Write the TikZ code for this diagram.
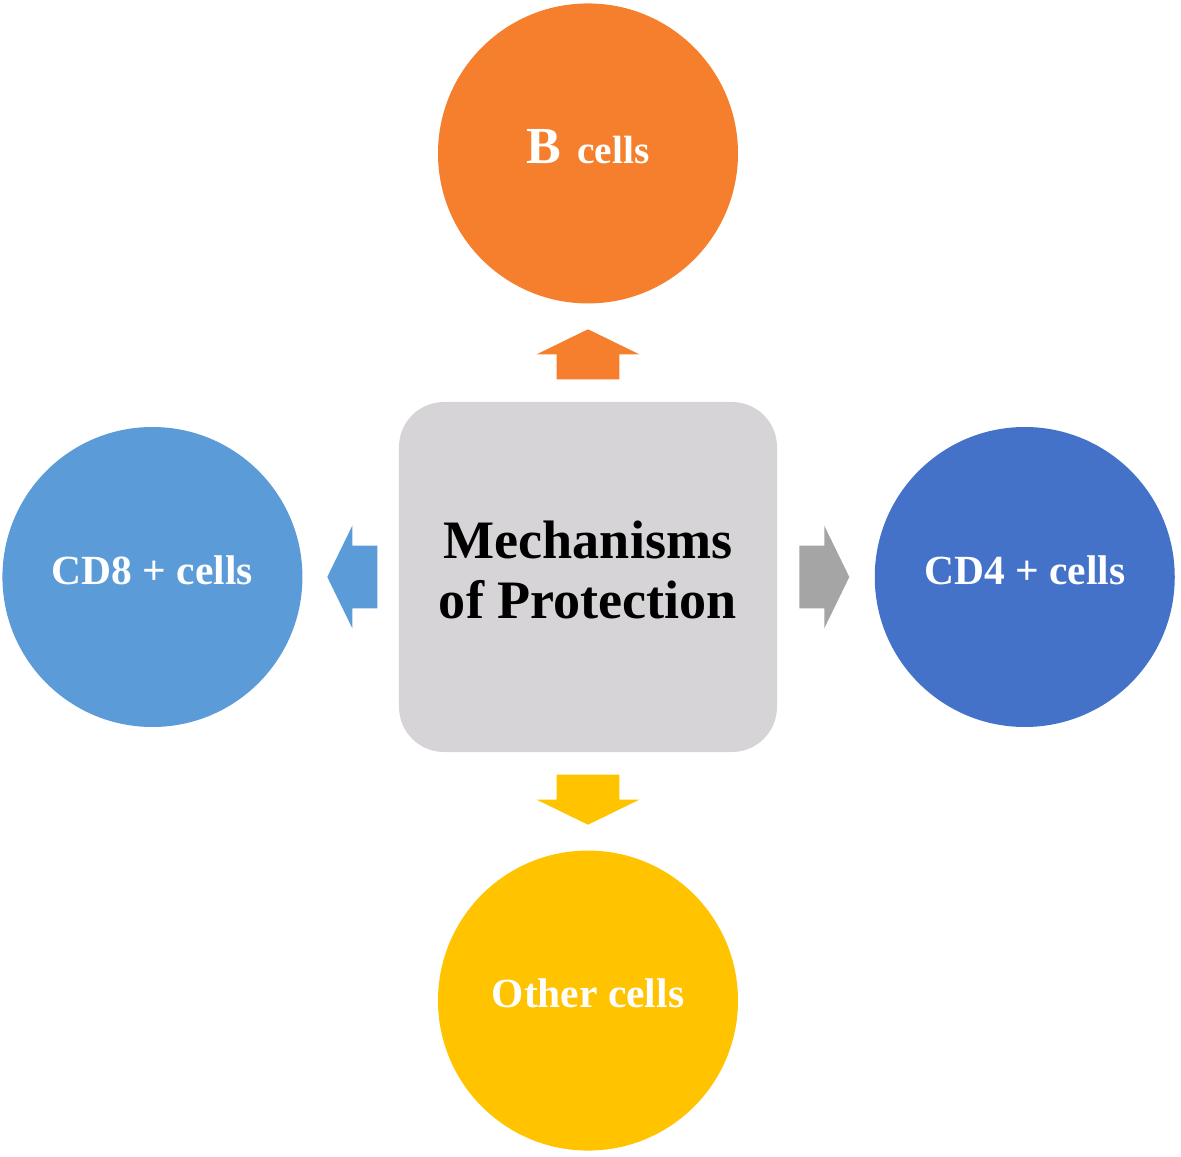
\documentclass[tikz,border=0pt]{standalone}
\usepackage{fontspec}
\setmainfont{Liberation Serif}
\usepackage{tikz}
\usetikzlibrary{positioning}
\usetikzlibrary{shapes,calc}
\definecolor{bcol}{HTML}{F57F2D}
\definecolor{cdeight}{HTML}{5B9BD8}
\definecolor{cdfour}{HTML}{4472C8}
\definecolor{othercol}{HTML}{FFC300}
\definecolor{boxgray}{HTML}{D6D4D6}
\definecolor{arrowgray}{HTML}{A5A5A5}
\tikzset{cell node/.style={circle,draw=none,minimum size=7.5cm,inner sep=0pt,text depth=0.35cm,text=white,font=\bfseries\fontsize{29.5}{32}\selectfont},
block arrow/.style={single arrow,draw=none,minimum height=1.25cm,inner xsep=0pt,inner ysep=0.775cm,single arrow head extend=0.5cm,single arrow tip angle=128},}

\begin{document}
\begin{tikzpicture}[node distance=2.45cm]
	\useasboundingbox (-14.7,-14.5) rectangle (14.825,14.425);
	\node[rounded corners=1.125cm,fill=boxgray,minimum width=9.45cm,minimum height=8.75cm,align=center,text depth=0.35cm,font=\bfseries\fontsize{38.5}{42.7}\selectfont] (mech) {Mechanisms\\of Protection};
	\node[cell node,fill=bcol] (b) [above = of mech] {{\fontsize{37}{40}\selectfont B}\hspace{0.4cm}{\fontsize{28}{30}\selectfont cells}};
	\node[cell node,fill=cdeight] (cd8) [left = 2.4cm of mech] {CD8 + cells};
	\node[cell node,fill=cdfour] (cd4) [right = 2.43cm of mech] {CD4 + cells};
	\node[cell node,fill=othercol] (other) [below = of mech] {Other cells};

	\node[block arrow,fill=bcol,rotate=90] (ab) at ($(mech.north)!0.5!(b.south)+(0,-0.23)$) {};
	\node[block arrow,fill=cdeight,rotate=180] (a8) at ($(mech.west)!0.5!(cd8.east)+(0.23,0)$) {};
	\node[block arrow,fill=arrowgray] (a4) at ($(mech.east)!0.5!(cd4.west)+(-0.23,0)$) {};
	\node[block arrow,fill=othercol,rotate=270] (ao) at ($(mech.south)!0.5!(other.north)+(0,0.23)$) {};
\end{tikzpicture}
\end{document}
